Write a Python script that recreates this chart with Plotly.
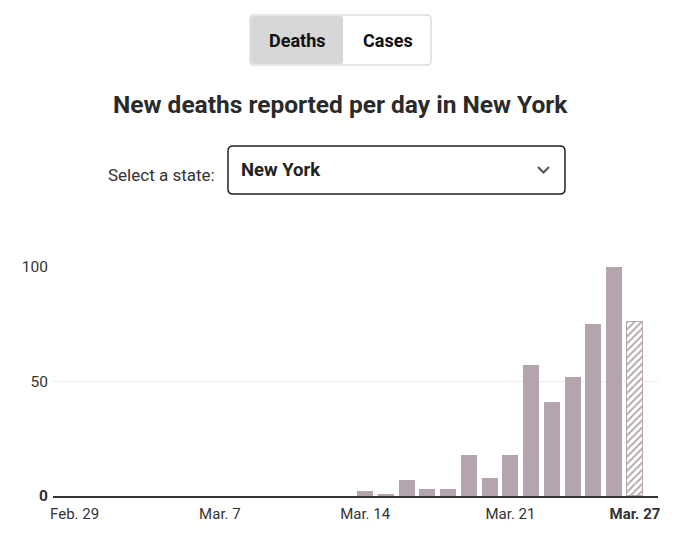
import pandas as pd
import plotly.graph_objects as go

# new deaths per day in New York, Feb. 29 - Mar. 27 (last day is partial)
start_date = '2020-02-29'
deaths = [0, 0, 0, 0, 0, 0, 0, 0, 0, 0, 0, 0, 0, 0,
          2, 1, 7, 3, 3, 18, 8, 18, 57, 41, 52, 75, 100, 76]
tick_dates = ['2020-02-29', '2020-03-07', '2020-03-14', '2020-03-21', '2020-03-27']
tick_labels = ['Feb. 29', 'Mar. 7', 'Mar. 14', 'Mar. 21', '<b>Mar. 27</b>']
y_ticks = [0, 50, 100]
y_labels = ['<b>0</b>', '50', '100']

dates = pd.date_range(start_date, periods=len(deaths))
bar_color = '#b3a4ad'
day_ms = 86400000

W, H = 680, 547
L, R, T, B = 53, 22, 267, 51
PW, PH = W - L - R, H - T - B


def px(x, y):
    # pixel position -> paper coords
    return (x - L) / PW, (H - B - y) / PH


def rrect(x0, y0, x1, y1, r):
    pts = [('M', x0 + r, y0), ('L', x1 - r, y0), ('Q', x1, y0, x1, y0 + r),
           ('L', x1, y1 - r), ('Q', x1, y1, x1 - r, y1), ('L', x0 + r, y1),
           ('Q', x0, y1, x0, y1 - r), ('L', x0, y0 + r), ('Q', x0, y0, x0 + r, y0)]
    s = ''
    for p in pts:
        s += p[0]
        coords = p[1:]
        for i in range(0, len(coords), 2):
            a, b = px(coords[i], coords[i + 1])
            s += f'{a:.5f},{b:.5f} '
    return s + 'Z'


fig = go.Figure()
fig.add_trace(go.Bar(x=dates[:-1], y=deaths[:-1], width=0.77 * day_ms,
                     marker_color=bar_color, marker_line_width=0,
                     hoverinfo='x+y'))
fig.add_trace(go.Bar(x=dates[-1:], y=deaths[-1:], width=0.77 * day_ms,
                     marker=dict(color='white', line=dict(color=bar_color, width=1),
                                 pattern=dict(shape='/', fgcolor=bar_color, bgcolor='white',
                                              size=5, solidity=0.35)),
                     hoverinfo='x+y'))

fig.update_layout(
    width=W, height=H, template=None, showlegend=False,
    margin=dict(l=L, r=R, t=T, b=B),
    paper_bgcolor='white', plot_bgcolor='white',
    font=dict(family='Roboto, Lato, sans-serif', color='#333'),
    bargap=0,
)
fig.update_xaxes(type='date', range=['2020-02-27 23:00', '2020-03-28 02:40'],
                 tickvals=tick_dates, ticktext=tick_labels, tickfont_size=15,
                 showgrid=False, showline=True, linecolor='#333', linewidth=1.5,
                 ticks='', zeroline=False, ticklabelstandoff=3)
fig.update_yaxes(range=[0, 100], tickvals=y_ticks, ticktext=y_labels, tickfont_size=15.5,
                 showgrid=True, gridcolor='#ececec', gridwidth=1, zeroline=False,
                 showline=False, ticks='', ticklabelstandoff=4)

# toggle buttons + state dropdown
shapes = [
    dict(type='path', path=rrect(250, 15, 431, 65, 4), xref='paper', yref='paper',
         fillcolor='white', line=dict(color='#dcdcdc', width=1.5)),
    dict(type='path', path=rrect(251, 16, 343, 64, 3), xref='paper', yref='paper',
         fillcolor='#d7d7d7', line=dict(width=0)),
    dict(type='path', path=rrect(228, 146, 565, 194, 5), xref='paper', yref='paper',
         fillcolor='white', line=dict(color='#222', width=1.5)),
]
a0, b0 = px(538, 167)
a1, b1 = px(543.5, 172.5)
a2, b2 = px(549, 167)
shapes.append(dict(type='path', path=f'M{a0},{b0} L{a1},{b1} L{a2},{b2}',
                   xref='paper', yref='paper', line=dict(color='#555', width=2)))
fig.update_layout(shapes=shapes)


def label(text, x, y, size, bold=False, anchor='center', color='#222'):
    a, b = px(x, y)
    fig.add_annotation(text=f'<b>{text}</b>' if bold else text, x=a, y=b,
                       xref='paper', yref='paper', showarrow=False,
                       xanchor=anchor, yanchor='middle',
                       font=dict(size=size, color=color))


label('Deaths', 297, 40, 18, bold=True, color='#111')
label('Cases', 388, 40, 18, bold=True, color='#111')
label('New deaths reported per day in New York', 340, 105, 24.5, bold=True, color='#2a2a2a')
label('Select a state:', 217, 175, 17, anchor='right', color='#333')
label('New York', 239, 170, 18.5, bold=True, anchor='left', color='#222')

# page body has a default 8px margin; drop it so the figure sits at 0,0
fig.write_html('out.html', config={'displayModeBar': False},
               post_script="document.body.style.margin='0';")
